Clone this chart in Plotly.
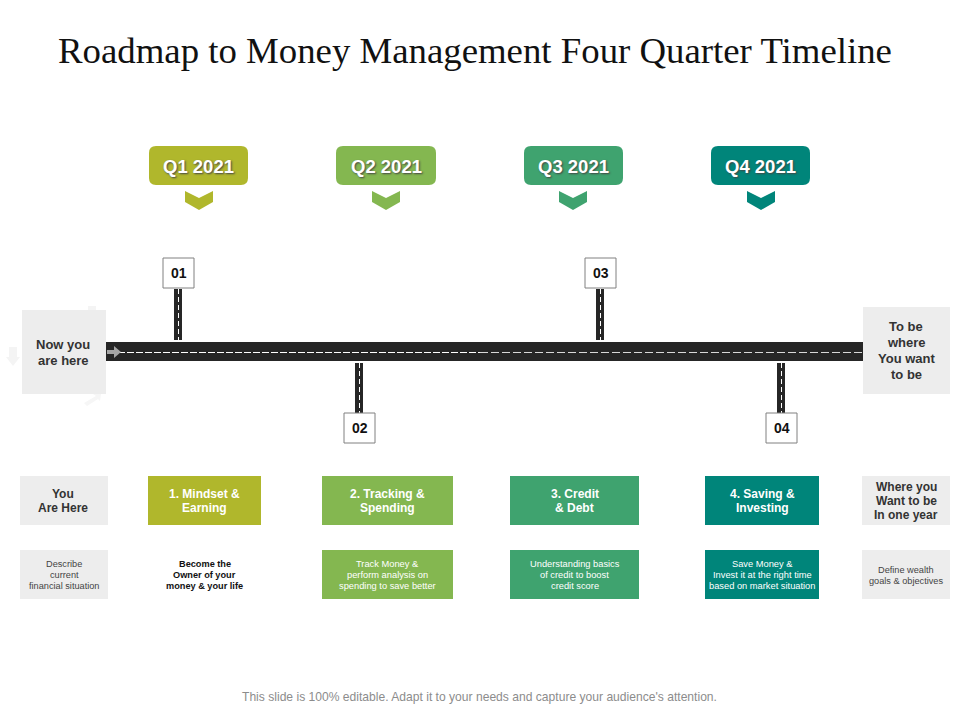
import plotly.graph_objects as go

# slide content
title = "Roadmap to Money Management Four Quarter Timeline"
footer = "This slide is 100% editable. Adapt it to your needs and capture your audience's attention."
quarters = ["Q1 2021", "Q2 2021", "Q3 2021", "Q4 2021"]
quarter_colors = ["#B0B72C", "#84B750", "#3FA36F", "#00857A"]
milestones = ["01", "02", "03", "04"]
headings = ["1. Mindset &\nEarning", "2. Tracking &\nSpending", "3. Credit\n& Debt", "4. Saving &\nInvesting"]
details = [
    "Become the\nOwner of your\nmoney & your life",
    "Track Money &\nperform analysis on\nspending to save better",
    "Understanding basics\nof credit to boost\ncredit score",
    "Save Money &\nInvest it at the right time\nbased on market situation",
]
start_label = "Now you\nare here"
end_label = "To be\nwhere\nYou want\nto be"
left_heading = "You\nAre Here"
left_detail = "Describe\ncurrent\nfinancial situation"
right_heading = "Where you\nWant to be\nIn one year"
right_detail = "Define wealth\ngoals & objectives"

# layout in slide pixels
GREY = "#EDEDED"
ROAD = "#262626"
DARK = "#333333"
quarter_boxes = [(149, 248), (336, 436), (524, 623), (711, 810)]
chevron_x = [199, 386, 573, 761]
stem_x = [178, 359, 600, 781]
columns = [(148, 261), (322, 453), (510, 639), (705, 819)]

shapes = []
annotations = []


def rect(x0, y0, x1, y1, fill, line=None):
    shapes.append(dict(type="rect", x0=x0, y0=y0, x1=x1, y1=y1, fillcolor=fill,
                       line=dict(color=line or fill, width=1 if line else 0), layer="below"))


def path(d, fill):
    shapes.append(dict(type="path", path=d, fillcolor=fill, line=dict(width=0), layer="below"))


def dash(x0, y0, x1, y1, color, pattern, width=1):
    shapes.append(dict(type="line", x0=x0, y0=y0, x1=x1, y1=y1, layer="below",
                       line=dict(color=color, width=width, dash=pattern)))


def label(text, xc, yc, size, color, bold=False, spacing=None, shadow=None):
    lines = text.split("\n")
    spacing = spacing or size * 1.2
    top = yc - spacing * (len(lines) - 1) / 2
    for i, line in enumerate(lines):
        font = dict(family="Liberation Sans", size=size, color=color)
        if shadow:
            font["shadow"] = shadow
        annotations.append(dict(
            x=xc, y=top + i * spacing, text=f"<b>{line}</b>" if bold else line,
            showarrow=False, xanchor="center", yanchor="middle", font=font))


# faint arrows behind the start box
path("M 9 347 L 17 347 L 17 357 L 20 357 L 13 366 L 6 357 L 9 357 Z", "#F4F4F4")
path("M 88 306 L 96 306 L 96 310 L 88 310 Z", "#F4F4F4")
path("M 84 403 L 96 396 L 93 394 L 101 394 L 100 401 L 98 399 L 87 406 Z", "#F6F6F6")

# road and its stems
rect(106, 342, 863, 361, ROAD)
dash(118, 352.5, 480, 352.5, "#FFFFFF", "7px,2px")
dash(480, 352.5, 863, 352.5, "#D8D8D8", "8px,3px")
path("M 107 350 L 114 350 L 114 346 L 121 352 L 114 358 L 114 354 L 107 354 Z", "#A6A6A6")

for i, x in enumerate(stem_x):
    upper = i % 2 == 0
    y0, y1 = (289, 340) if upper else (363, 413)
    rect(x - 4, y0, x + 4, y1, ROAD)
    dash(x + 0.5, y0, x + 0.5, y1, "#FFFFFF", "5px,3px")
    by0 = 258 if upper else 413
    rect(x - 15, by0, x + 16, by0 + 30, "#FFFFFF", "#808080")
    label(milestones[i], x + 0.5, by0 + 14.5, 14, "#111111", bold=True)

# quarter tags
for i, (x0, x1) in enumerate(quarter_boxes):
    r = 7
    y0, y1 = 146, 185
    path(f"M {x0 + r} {y0} L {x1 - r} {y0} Q {x1} {y0} {x1} {y0 + r} L {x1} {y1 - r} "
         f"Q {x1} {y1} {x1 - r} {y1} L {x0 + r} {y1} Q {x0} {y1} {x0} {y1 - r} "
         f"L {x0} {y0 + r} Q {x0} {y0} {x0 + r} {y0} Z", quarter_colors[i])
    label(quarters[i], (x0 + x1) / 2, 166.5, 18.5, "#FFFFFF", bold=True, shadow="1px 1px 2px #444444")
    c = chevron_x[i]
    path(f"M {c - 14} 191 L {c} 198 L {c + 14} 191 L {c + 14} 202 L {c} 210 L {c - 14} 202 Z",
         quarter_colors[i])

# start and end boxes
rect(22, 310, 106, 394, GREY)
label(start_label, 63, 352.5, 13, DARK, bold=True, spacing=16)
rect(863, 307, 950, 394, GREY)
label(end_label, 906, 350.5, 13, DARK, bold=True, spacing=16)

# bottom table
rect(20, 476, 108, 525, GREY)
label(left_heading, 63, 500.5, 12, DARK, bold=True, spacing=14)
rect(20, 550, 108, 599, GREY)
label(left_detail, 64, 574.5, 9.2, "#444444", spacing=11)

for i, (x0, x1) in enumerate(columns):
    xc = (x0 + x1) / 2
    rect(x0, 476, x1, 525, quarter_colors[i])
    label(headings[i], xc, 500.5, 12, "#FFFFFF", bold=True, spacing=14)
    if i == 0:
        label(details[i], xc, 574.5, 9.2, "#111111", bold=True, spacing=11)
    else:
        rect(x0, 550, x1, 599, quarter_colors[i])
        label(details[i], xc, 574.5, 9.3, "#FFFFFF", spacing=11)

rect(862, 476, 950, 525, GREY)
label(right_heading, 906, 500.5, 12, DARK, bold=True, spacing=14)
rect(862, 550, 950, 599, GREY)
label(right_detail, 906, 575.5, 9.2, "#444444", spacing=11)

# title and footer
annotations.append(dict(x=475, y=50, text=title, showarrow=False, xanchor="center", yanchor="middle",
                        font=dict(family="Liberation Serif", size=36.8, color="#111111")))
label(footer, 479, 697, 12.1, "#8C8C8C")

fig = go.Figure()
fig.update_layout(
    width=960, height=720,
    margin=dict(l=0, r=0, t=0, b=0),
    paper_bgcolor="#FFFFFF", plot_bgcolor="#FFFFFF",
    showlegend=False,
    xaxis=dict(range=[0, 960], visible=False, fixedrange=True),
    yaxis=dict(range=[720, 0], visible=False, fixedrange=True),
    shapes=shapes, annotations=annotations,
)
# page body has a default margin, drop it so slide pixels line up
fig.write_html("out.html", config=dict(displayModeBar=False),
               post_script="document.body.style.margin='0';document.documentElement.style.overflow='hidden';")
